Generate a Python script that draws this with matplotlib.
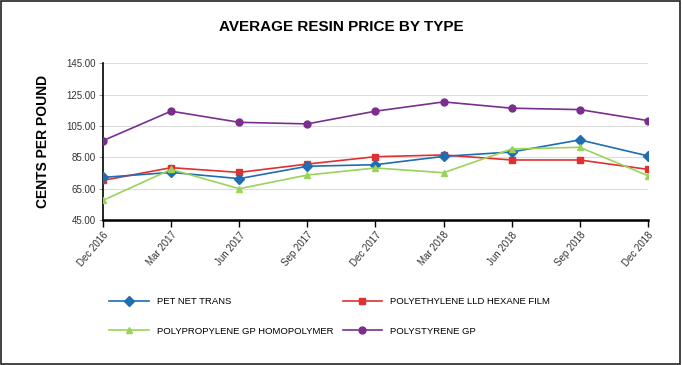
import matplotlib
matplotlib.use("Agg")
import matplotlib.pyplot as plt
from matplotlib.patches import Rectangle

plt.rcParams['font.family'] = ['Liberation Sans', 'DejaVu Sans']

categories = ["Dec 2016", "Mar 2017", "Jun 2017", "Sep 2017", "Dec 2017",
              "Mar 2018", "Jun 2018", "Sep 2018", "Dec 2018"]
pet = [72.2, 75.4, 71.4, 79.3, 80.3, 85.6, 88.4, 96.1, 85.9]
pe = [70.3, 78.4, 75.4, 80.7, 85.4, 86.5, 83.3, 83.3, 77.3]
pp = [57.6, 77.3, 65.0, 73.7, 78.2, 75.2, 90.3, 91.4, 73.3]
ps = [95.6, 114.4, 107.3, 106.3, 114.4, 120.3, 116.3, 115.4, 108.4]
yticks = [45, 65, 85, 105, 125, 145]

fig = plt.figure(figsize=(6.82, 3.65), dpi=100)
ax = fig.add_axes([0.151, 0.397, 0.799, 0.430])

x = list(range(len(categories)))
ms = 5
h_pet, = ax.plot(x, pet, color="#1f6db3", marker="D", markersize=ms, lw=1.2, label="PET NET TRANS", zorder=4)
h_pe, = ax.plot(x, pe, color="#e0302f", marker="s", markersize=ms, lw=1.2, label="POLYETHYLENE LLD HEXANE FILM", zorder=3)
h_pp, = ax.plot(x, pp, color="#9bd35a", marker="^", markersize=ms, lw=1.2, label="POLYPROPYLENE GP HOMOPOLYMER", zorder=5)
h_ps, = ax.plot(x, ps, color="#7a2f8e", marker="o", markersize=ms, lw=1.2, label="POLYSTYRENE GP", zorder=3)

ax.set_xlim(0, len(categories) - 1)
ax.set_ylim(45, 145)
ax.set_yticks(yticks)
ax.set_yticklabels([f"{v:.2f}" for v in yticks], fontsize=7, color="#333333")
ax.set_xticks(x)
ax.set_xticklabels(categories, rotation=50, ha="right", rotation_mode="anchor", fontsize=7, color="#333333")
ax.grid(axis="y", color="#dddddd", lw=0.8)
ax.set_axisbelow(True)
for s in ["top", "right"]:
    ax.spines[s].set_visible(False)
ax.spines["left"].set_linewidth(1.2)
ax.spines["bottom"].set_linewidth(1.8)
ax.tick_params(axis="x", length=5, direction="out", width=1, pad=2)
ax.tick_params(axis="y", length=3, direction="out", width=0.6, color="#888888", pad=2)
ax.set_ylabel("CENTS PER POUND", fontsize=10, fontweight="bold", labelpad=12)

fig.text(0.5, 0.925, "AVERAGE RESIN PRICE BY TYPE", ha="center", va="center",
         fontsize=11, fontweight="bold")

fig.legend([h_pet, h_pp, h_pe, h_ps],
           [h.get_label() for h in [h_pet, h_pp, h_pe, h_ps]],
           ncol=2, loc="upper left", bbox_to_anchor=(0.155, 0.196),
           frameon=False, fontsize=6.8, handlelength=4.2, handletextpad=0.8,
           columnspacing=1.0, labelspacing=2.15, borderaxespad=0)

fig.patches.append(Rectangle((0.002, 0.003), 0.995, 0.994, transform=fig.transFigure,
                             fill=False, edgecolor="#222222", lw=1.2))

fig.savefig("out.png", dpi=100)
